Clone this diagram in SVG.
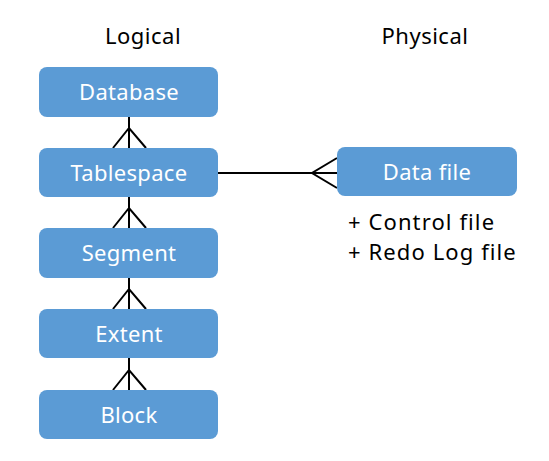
<svg xmlns="http://www.w3.org/2000/svg" width="549" height="461" viewBox="0 0 549 461">
<style>
.box{fill:#5B9BD5;}
.lbl{font-family:"Noto Sans","DejaVu Sans",sans-serif;font-size:22px;letter-spacing:0.3px;fill:#fff;text-anchor:middle;}
.txt{font-family:"Noto Sans","DejaVu Sans",sans-serif;font-size:22px;letter-spacing:0.5px;fill:#000;}
.note{letter-spacing:1.1px;}
.ln{stroke:#000;stroke-width:2;fill:none;}
</style>
<rect width="549" height="461" fill="#fff"/>
<text class="txt" x="143" y="44" text-anchor="middle">Logical</text>
<text class="txt" x="425" y="44" text-anchor="middle">Physical</text>
<g id="connectors">
<path class="ln" d="M129 117V148M113 148L129 128L146 148"/>
<path class="ln" d="M129 197V228M113 228L129 208L146 228"/>
<path class="ln" d="M129 278V309M113 309L129 289L146 309"/>
<path class="ln" d="M129 358V390M113 390L129 370L146 390"/>
<path class="ln" d="M218 173H337M337 158L312 173L337 188"/>
</g>
<g id="database"><rect class="box" x="39" y="67" width="179" height="50" rx="8"/><text class="lbl" x="129" y="100">Database</text></g>
<g id="tablespace"><rect class="box" x="39" y="148" width="179" height="49" rx="8"/><text class="lbl" x="129" y="181">Tablespace</text></g>
<g id="segment"><rect class="box" x="39" y="228" width="179" height="50" rx="8"/><text class="lbl" x="129" y="261">Segment</text></g>
<g id="extent"><rect class="box" x="39" y="309" width="179" height="49" rx="8"/><text class="lbl" x="129" y="342">Extent</text></g>
<g id="block"><rect class="box" x="39" y="390" width="179" height="49" rx="8"/><text class="lbl" x="129" y="423">Block</text></g>
<g id="datafile"><rect class="box" x="337" y="147" width="180" height="49" rx="8"/><text class="lbl" x="427" y="180">Data file</text></g>
<g id="notes">
<text class="txt note" x="348" y="230">+ Control file</text>
<text class="txt note" x="348" y="260">+ Redo Log file</text>
</g>
</svg>
